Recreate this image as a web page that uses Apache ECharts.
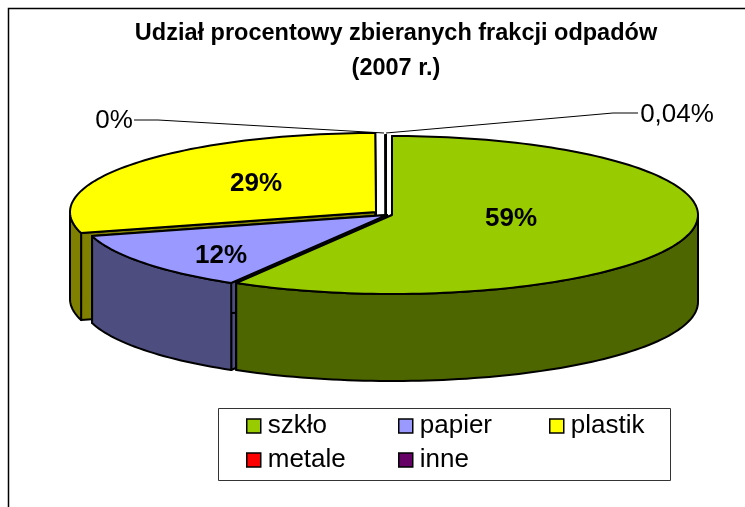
<!DOCTYPE html>
<html><head><meta charset="utf-8">
<style>html,body{margin:0;padding:0;background:#fff}#c{width:745px;height:507px}</style>
<script src="https://cdn.jsdelivr.net/npm/echarts@6/dist/echarts.min.js"></script>
</head><body><div id="c"></div>
<script>
const categories = ['szkło', 'papier', 'plastik', 'metale', 'inne'];
const shares = [58.5, 12.2, 29.26, 0.04, 0];
const shareLabels = ['59%', '12%', '29%', '0,04%', '0%'];
const topColors = ['#99CC00', '#9999FF', '#FFFF00', '#FF0000', '#660066'];
const wallColors = ['#4D6600', '#4D4D80', '#808000', '#800000', '#330033'];

// layout of the tilted, exploded pie
const RX = 306, RY = 79, DEPTH = 87;
const sliceCentres = [[392, 215], [387, 215], [376, 212], [386, 214], [386, 214]];
const paintOrder = [5, 4, 1, 2, 3];
const innerLabelPos = [[511, 219], [221, 256], [256, 184]];
const outerLabels = {
  3: { text: [677, 115], line: [[638, 113], [613, 113], [386, 133]] },
  4: { text: [114, 121], line: [[134, 120], [158, 120], [384, 133]] }
};
const total = shares.reduce((a, b) => a + b, 0);
function startOf(i) { return shares.slice(0, i).reduce((a, b) => a + b, 0) / total * 360; }
function rim(c, deg, dy) {
  const t = deg * Math.PI / 180;
  return [c[0] + RX * Math.sin(t), c[1] - RY * Math.cos(t) + (dy || 0)];
}
function arc(c, a, b, dy) {
  const pts = [], n = Math.max(2, Math.ceil(Math.abs(b - a) / 1.5));
  for (let k = 0; k <= n; k++) pts.push(rim(c, a + (b - a) * k / n, dy));
  return pts;
}
const edge = { stroke: '#000', lineWidth: 2, lineJoin: 'round' };
function renderSlice(params, api) {
  const i = params.seriesIndex;
  const v = api.value(0);
  const a = startOf(i), b = a + v / total * 360, c = sliceCentres[i];
  const top = topColors[i], wall = wallColors[i];
  const kids = [];
  const poly = (points, fill) => kids.push({ type: 'polygon', shape: { points }, style: Object.assign({ fill }, edge) });
  [a, b].forEach(d => {
    const r = rim(c, d);
    poly([c, r, [r[0], r[1] + DEPTH], [c[0], c[1] + DEPTH]], wall);
  });
  const wa = Math.max(a, 90), wb = Math.min(b, 270);
  if (wb > wa) poly(arc(c, wa, wb, 0).concat(arc(c, wb, wa, DEPTH)), wall);
  poly([c].concat(arc(c, a, b, 0)), top);
  if (innerLabelPos[i]) {
    kids.push({ type: 'text', z2: 5, style: { x: innerLabelPos[i][0], y: innerLabelPos[i][1], text: shareLabels[i],
      align: 'center', verticalAlign: 'middle', fill: '#000', font: 'bold 26px "Liberation Sans"' } });
  }
  if (outerLabels[i]) {
    kids.push({ type: 'polyline', shape: { points: outerLabels[i].line }, style: { stroke: '#000', lineWidth: 1, fill: 'none' } });
    kids.push({ type: 'text', style: { x: outerLabels[i].text[0], y: outerLabels[i].text[1], text: shareLabels[i],
      align: 'center', verticalAlign: 'middle', fill: '#000', font: '26px "Liberation Sans"' } });
  }
  return { type: 'group', children: kids };
}
const legendBase = {
  orient: 'vertical', icon: 'rect', itemWidth: 14, itemHeight: 14, itemGap: 8, padding: 0,
  selectedMode: false, top: 413, textStyle: { fontFamily: 'Liberation Sans', fontSize: 26, color: '#000', padding: [1, 0, 0, 2], lineHeight: 24 },
  itemStyle: { borderColor: '#000', borderWidth: 1.5 }
};
const chart = echarts.init(document.getElementById('c'), null, { renderer: 'canvas' });
chart.setOption({
  animation: false,
  backgroundColor: '#fff',
  title: {
    text: 'Udział procentowy zbieranych frakcji odpadów\n(2007 r.)',
    left: 391, top: 11, textAlign: 'center',
    textStyle: { fontFamily: 'Liberation Sans', fontWeight: 'bold', fontSize: 23.5, lineHeight: 35, color: '#000' }
  },
  legend: [
    Object.assign({}, legendBase, { left: 246, data: [categories[0], categories[3]] }),
    Object.assign({}, legendBase, { left: 398, data: [categories[1], categories[4]] }),
    Object.assign({}, legendBase, { left: 549, data: [categories[2]] })
  ],
  graphic: [
    { type: 'polyline', silent: true, shape: { points: [[8.5, 507], [8.5, 8.5], [745, 8.5]] }, style: { stroke: '#000', lineWidth: 1.5, fill: 'none' } },
    { type: 'rect', silent: true, z: -1, shape: { x: 218.5, y: 408.5, width: 452, height: 72 }, style: { fill: '#fff', stroke: '#333', lineWidth: 1 } }
  ],
  series: categories.map((name, i) => ({
    type: 'custom', name, coordinateSystem: 'none', z: 2 + paintOrder[i], silent: true,
    itemStyle: { color: topColors[i] },
    renderItem: renderSlice,
    data: [[shares[i]]]
  }))
});
</script></body></html>
